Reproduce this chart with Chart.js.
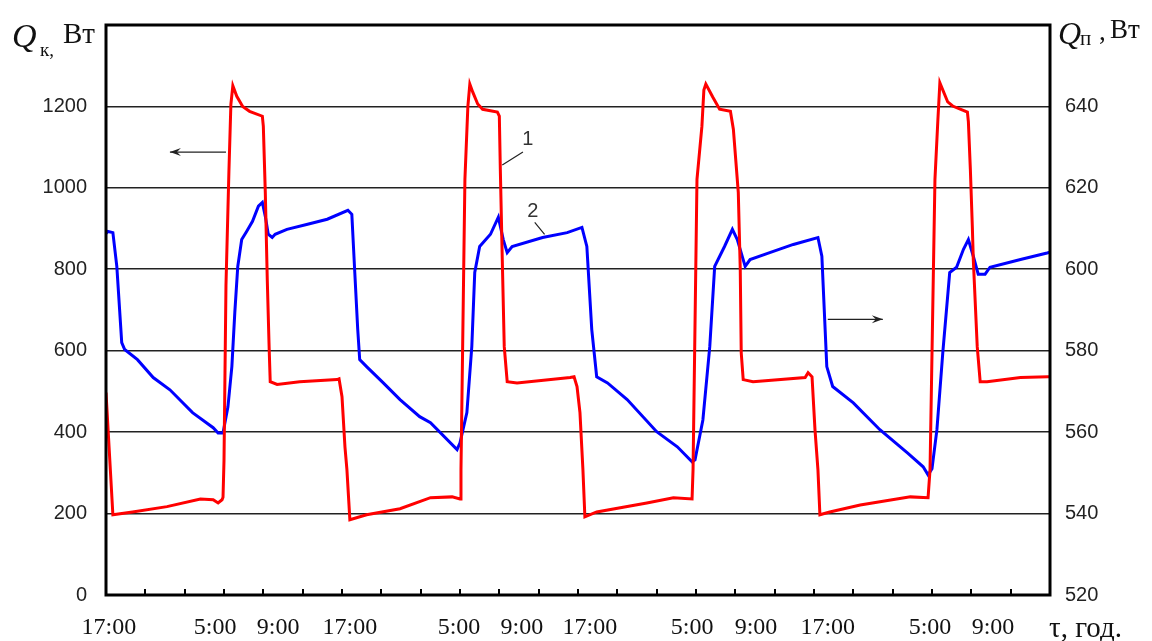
<!DOCTYPE html>
<html>
<head>
<meta charset="utf-8">
<script src="https://cdn.jsdelivr.net/npm/chart.js@4.4.0/dist/chart.umd.min.js"></script>
<style>
  html, body { margin: 0; padding: 0; background: #fff; overflow: hidden; }
  #wrap { width: 1152px; height: 647px; margin-top: -6px; position: relative; }
</style>
</head>
<body>
<div id="wrap"><canvas id="chart"></canvas></div>
<script>
// x axis: hours since 17:00 of the first day
const xLabels = ["17:00", "5:00", "9:00", "17:00", "5:00", "9:00", "17:00", "5:00", "9:00", "17:00", "5:00", "9:00"];
const labelHours = [0.3, 11.1, 17.5, 24.8, 35.9, 42.3, 49.2, 59.6, 66.1, 73.4, 83.8, 90.2];

// curve 1 - Q_к, W (left axis)
const redHours = [0, 0.7, 2.7, 6.2, 9.6, 10.9, 11.4, 11.8, 11.9, 12.0, 12.2, 12.5, 12.7, 12.9, 13.3, 13.9, 14.6, 15.9, 16.0, 16.2, 16.4, 16.6, 16.7, 17.4, 19.7, 23.5, 23.7, 24.0, 24.3, 24.5, 24.8,
  26.5, 29.9, 33.0, 35.2, 36.0, 36.1, 36.5, 36.8, 37.0, 37.3, 37.8, 38.3, 39.8, 40.0, 40.1, 40.3, 40.5, 40.8, 41.8, 47.2, 47.6, 47.9, 48.2, 48.5, 48.7,
  49.9, 55.0, 57.7, 59.6, 59.7, 60.1, 60.6, 60.8, 61.0, 61.7, 62.4, 63.5, 63.8, 64.3, 64.5, 64.6, 64.8, 65.8, 71.1, 71.4, 71.8, 72.1, 72.4, 72.6,
  73.6, 76.7, 81.8, 83.6, 83.8, 84.3, 84.6, 84.8, 85.6, 86.1, 87.6, 87.7, 87.9, 88.1, 88.2, 88.6, 88.9, 89.6, 93.0, 95.8, 96];
const redValues = [497, 197, 204, 217, 236, 234, 226, 234, 240, 330, 760, 1040, 1205, 1251, 1225, 1200, 1188, 1176, 1151, 989, 775, 600, 524, 517, 524, 529, 531, 487, 364, 308, 185,
  197, 212, 239, 241, 236, 308, 1021, 1200, 1255, 1235, 1206, 1193, 1186, 1176, 1046, 824, 610, 524, 521, 534, 536, 512, 448, 308, 192,
  204, 226, 239, 236, 308, 1021, 1151, 1240, 1255, 1223, 1193, 1188, 1144, 989, 800, 595, 529, 524, 534, 546, 536, 406, 308, 197,
  204, 221, 241, 239, 308, 1021, 1168, 1258, 1211, 1201, 1186, 1162, 1046, 906, 824, 610, 524, 524, 534, 536, 536];

// curve 2 - Q_п, W (right axis)
const blueHours = [0, 0.2, 0.7, 1.1, 1.6, 1.9, 3.2, 4.8, 6.5, 8.8, 10.9, 11.4, 11.9, 12.4, 12.8, 13.1, 13.4, 13.8, 14.3, 14.9, 15.5, 15.9, 16.2, 16.5, 16.9, 17.2, 18.4, 20.4, 22.5, 24.6, 25.0,
  25.3, 25.6, 25.8, 26.5, 28.2, 29.9, 31.9, 33.0, 35.7, 36.0, 36.7, 37.2, 37.5, 38.0, 39.1, 39.9, 40.4, 40.8, 41.3, 44.4, 46.9, 48.4, 48.9,
  49.4, 49.9, 51.0, 53.0, 56.0, 58.1, 59.6, 59.9, 60.7, 61.4, 61.9, 62.9, 63.7, 64.2, 65.0, 65.5, 67.5, 69.9, 72.4, 72.8,
  73.3, 73.9, 76.0, 78.7, 81.5, 83.1, 83.6, 84.0, 84.5, 85.1, 85.8, 86.5, 87.2, 87.7, 88.2, 88.7, 89.4, 89.9, 93.0, 95.7, 96];
const blueValues = [608.8, 609.3, 609.0, 600.7, 582.0, 580.3, 577.8, 573.4, 570.4, 564.8, 561.1, 559.8, 559.8, 566.2, 576.1, 589.4, 600.7, 607.3, 609.3, 611.8, 615.5, 616.4, 613.0, 608.6, 607.8, 608.6, 609.8, 611.0, 612.3, 614.5, 613.5,
  599.2, 585.2, 577.8, 576.1, 572.1, 568.0, 563.8, 562.3, 555.7, 557.4, 564.8, 581.0, 599.2, 605.6, 608.6, 612.8, 607.3, 604.1, 605.6, 607.8, 609.0, 610.3, 605.6,
  585.2, 573.6, 572.1, 568.0, 560.1, 556.4, 552.7, 553.2, 563.0, 581.0, 600.7, 605.6, 609.8, 607.3, 600.7, 602.4, 604.1, 606.1, 607.8, 603.2,
  576.1, 571.2, 567.2, 560.6, 554.9, 551.5, 549.5, 551.0, 560.6, 579.6, 599.2, 600.5, 604.9, 607.3, 603.2, 598.8, 598.8, 600.5, 602.4, 604.0, 604.2];

const serif = "'Liberation Serif', 'Times New Roman', serif";
const sans = "'Liberation Sans', Arial, sans-serif";
const shift = 6; // canvas is pulled up by this much (see #wrap)

function arrow(ctx, x1, y, x2) {
  // line from x1 to x2 with a head at x2
  const d = x2 > x1 ? 1 : -1;
  ctx.beginPath();
  ctx.moveTo(x1, y);
  ctx.lineTo(x2, y);
  ctx.stroke();
  ctx.beginPath();
  ctx.moveTo(x2, y);
  ctx.lineTo(x2 - d * 11, y - 4);
  ctx.lineTo(x2 - d * 7, y);
  ctx.lineTo(x2 - d * 11, y + 4);
  ctx.closePath();
  ctx.fill();
}

const decorPlugin = {
  id: "decor",
  afterDatasetsDraw(chart) {
    const { ctx, chartArea: a, scales } = chart;
    const x = scales.x, y = scales.y;
    ctx.save();
    // frame
    ctx.strokeStyle = "#000";
    ctx.lineWidth = 3;
    ctx.strokeRect(a.left, a.top, a.right - a.left, a.bottom - a.top);
    // inner tick marks every 4 h
    ctx.lineWidth = 2;
    for (let h = 4; h < 96; h += 4) {
      const px = Math.round(x.getPixelForValue(h));
      ctx.beginPath();
      ctx.moveTo(px, a.bottom);
      ctx.lineTo(px, a.bottom - 6);
      ctx.stroke();
    }
    // direction arrows
    ctx.lineWidth = 1.3;
    ctx.strokeStyle = "#222";
    ctx.fillStyle = "#222";
    arrow(ctx, x.getPixelForValue(12.2), y.getPixelForValue(1088), x.getPixelForValue(6.5));
    arrow(ctx, x.getPixelForValue(73.4), y.getPixelForValue(677), x.getPixelForValue(79.0));
    // curve labels with leaders
    ctx.lineWidth = 1.2;
    ctx.beginPath();
    ctx.moveTo(x.getPixelForValue(40.3), y.getPixelForValue(1056));
    ctx.lineTo(x.getPixelForValue(42.4), y.getPixelForValue(1088));
    ctx.moveTo(x.getPixelForValue(43.6), y.getPixelForValue(915));
    ctx.lineTo(x.getPixelForValue(44.6), y.getPixelForValue(886));
    ctx.stroke();
    ctx.font = "20px " + sans;
    ctx.textAlign = "center";
    ctx.textBaseline = "middle";
    ctx.fillStyle = "#333";
    ctx.fillText("1", x.getPixelForValue(42.9), y.getPixelForValue(1120));
    ctx.fillText("2", x.getPixelForValue(43.4), y.getPixelForValue(943));
    ctx.restore();
  },
  afterDraw(chart) {
    const { ctx } = chart;
    ctx.save();
    ctx.translate(0, shift);
    ctx.fillStyle = "#111";
    ctx.textBaseline = "alphabetic";
    ctx.textAlign = "left";
    // left axis title: Q_к, Вт
    ctx.font = "italic 34px " + serif;
    ctx.fillText("Q", 12, 47);
    ctx.font = "19px " + serif;
    ctx.fillText("к,", 40, 56);
    ctx.font = "29px " + serif;
    ctx.fillText("Вт", 63, 43);
    // right axis title: Q_п , Вт
    ctx.font = "italic 32px " + serif;
    ctx.fillText("Q", 1058, 44);
    ctx.font = "21px " + serif;
    ctx.fillText("п", 1080, 45);
    ctx.font = "27px " + serif;
    ctx.fillText(",", 1099, 40);
    ctx.fillText("Вт", 1110, 38);
    // x axis title
    ctx.font = "29px " + serif;
    ctx.fillText("τ, год.", 1049, 637);
    ctx.restore();
  }
};

new Chart(document.getElementById("chart"), {
  type: "line",
  data: {
    datasets: [
      {
        label: "1",
        data: redHours.map((h, i) => ({ x: h, y: redValues[i] })),
        yAxisID: "y",
        borderColor: "#ff0000",
        borderWidth: 3,
        pointRadius: 0,
        tension: 0,
      },
      {
        label: "2",
        data: blueHours.map((h, i) => ({ x: h, y: blueValues[i] })),
        yAxisID: "y2",
        borderColor: "#0000ff",
        borderWidth: 3,
        pointRadius: 0,
        tension: 0,
      },
    ],
  },
  options: {
    responsive: true,
    maintainAspectRatio: false,
    animation: false,
    layout: { padding: { top: 14, left: 0, right: 0, bottom: 0 } },
    plugins: { legend: { display: false }, tooltip: { enabled: false } },
    scales: {
      x: {
        type: "linear",
        min: 0,
        max: 96,
        grid: { display: false, drawTicks: false },
        border: { display: false },
        afterBuildTicks: (s) => { s.ticks = labelHours.map((v) => ({ value: v })); },
        afterFit: (s) => { s.height = 46; },
        ticks: {
          autoSkip: false,
          maxRotation: 0,
          padding: 18,
          color: "#111",
          font: { family: serif, size: 24 },
          callback: (v, i) => xLabels[i],
        },
      },
      y: {
        position: "left",
        min: 0,
        max: 1400,
        afterFit: (s) => { s.width = 106; },
        border: { display: false },
        grid: {
          drawTicks: false,
          lineWidth: 1.6,
          color: (c) => (c.tick.value === 0 || c.tick.value === 1400 ? "rgba(0,0,0,0)" : "#222"),
        },
        ticks: {
          stepSize: 200,
          padding: 19,
          color: "#222",
          font: { family: sans, size: 20 },
          callback: (v) => (v === 1400 ? "" : v),
        },
      },
      y2: {
        position: "right",
        min: 520,
        max: 660,
        afterFit: (s) => { s.width = 102; },
        border: { display: false },
        grid: { display: false, drawTicks: false },
        ticks: {
          stepSize: 20,
          padding: 15,
          color: "#222",
          font: { family: sans, size: 20 },
          callback: (v) => (v === 660 ? "" : v),
        },
      },
    },
  },
  plugins: [decorPlugin],
});
</script>
</body>
</html>
